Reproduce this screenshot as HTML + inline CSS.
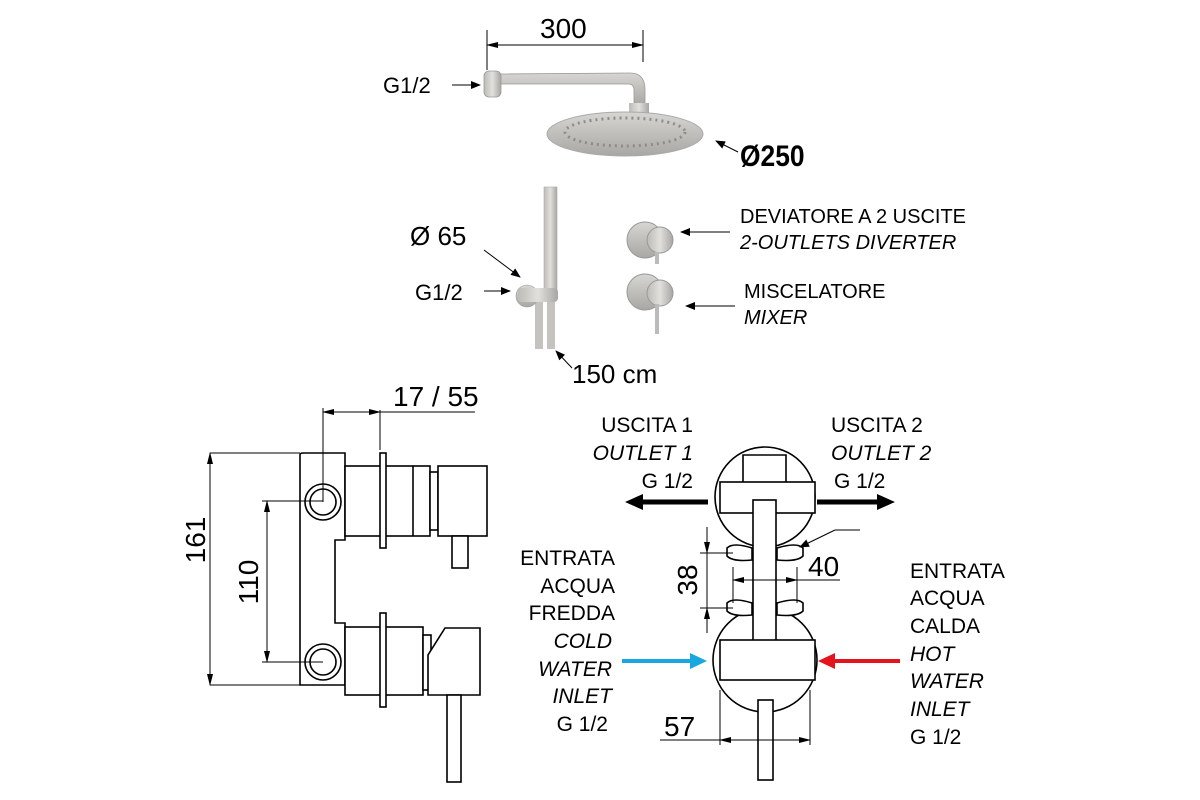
<!DOCTYPE html>
<html><head><meta charset="utf-8"><style>
html,body{margin:0;padding:0;background:#fff;width:1200px;height:800px;overflow:hidden}
text{font-family:"Liberation Sans",sans-serif;fill:#000}
.i{font-style:italic}
</style></head><body>
<svg width="1200" height="800" viewBox="0 0 1200 800" xmlns="http://www.w3.org/2000/svg">
<defs>
<marker id="a" markerWidth="10" markerHeight="8" refX="9" refY="4" orient="auto" markerUnits="userSpaceOnUse"><path d="M0,0L10,4L0,8z" fill="#000"/></marker>
<marker id="s" markerWidth="12" markerHeight="6" refX="11" refY="3" orient="auto-start-reverse" markerUnits="userSpaceOnUse"><path d="M0,0L12,3L0,6z" fill="#000"/></marker>
<linearGradient id="m" x1="0" y1="0" x2="0" y2="1"><stop offset="0" stop-color="#d8d6d2"/><stop offset="1" stop-color="#a9a7a3"/></linearGradient>
<linearGradient id="mh" x1="0" y1="0" x2="1" y2="0"><stop offset="0" stop-color="#bdbbb7"/><stop offset=".5" stop-color="#e2e0dc"/><stop offset="1" stop-color="#a8a6a2"/></linearGradient>
</defs>

<text x="540" y="38" font-size="28">300</text>
<line x1="487" y1="30" x2="487" y2="70" stroke="#000" stroke-width="1"/>
<line x1="643" y1="30" x2="643" y2="62" stroke="#000" stroke-width="1"/>
<line x1="487" y1="45" x2="643" y2="45" stroke="#000" marker-start="url(#s)" marker-end="url(#s)"/>
<text x="383" y="93" font-size="22">G1/2</text>
<line x1="452" y1="85" x2="480" y2="85" stroke="#000" marker-end="url(#a)"/>
<path d="M500,74 L630,73 Q645,73 645,90 L645,105 L634,105 L634,90 Q634,84 628,84 L500,84z" fill="url(#m)" stroke="#999" stroke-width=".8"/>
<rect x="484" y="71" width="17" height="26" rx="5" fill="url(#mh)" stroke="#999" stroke-width=".8"/>
<rect x="629" y="103" width="20" height="10" fill="url(#mh)"/>
<ellipse cx="625" cy="134" rx="78" ry="22" fill="url(#m)" stroke="#aaa"/>
<ellipse cx="625" cy="132" rx="60" ry="14" fill="none" stroke="#8f8d89" stroke-width="3" stroke-dasharray="2 4"/>
<text x="740" y="166" font-size="30" font-weight="bold" transform="translate(740,0) scale(0.88,1) translate(-740,0)">Ø250</text>
<line x1="738" y1="152" x2="716" y2="141" stroke="#000" marker-end="url(#a)"/>

<rect x="544" y="187" width="13" height="105" fill="url(#mh)" stroke="#aaa" stroke-width=".6"/>
<rect x="535" y="292" width="8" height="57" fill="#c5c3bf"/>
<rect x="547" y="292" width="8" height="57" fill="#c5c3bf"/>
<circle cx="527" cy="296" r="11" fill="url(#m)" stroke="#999" stroke-width=".6"/>
<rect x="518" y="288" width="40" height="14" rx="4" fill="url(#mh)"/>
<text x="410" y="245" font-size="26">Ø 65</text>
<line x1="484" y1="250" x2="520" y2="277" stroke="#000" marker-end="url(#a)"/>
<text x="415" y="300" font-size="22">G1/2</text>
<line x1="484" y1="291" x2="510" y2="291" stroke="#000" marker-end="url(#a)"/>
<text x="572" y="383" font-size="26">150 cm</text>
<line x1="572" y1="368" x2="556" y2="351" stroke="#000" marker-end="url(#a)"/>

<circle cx="645" cy="240" r="18" fill="url(#m)" stroke="#999"/>
<circle cx="660" cy="240" r="13" fill="url(#mh)" stroke="#999"/>
<rect x="655" y="252" width="4" height="12" fill="#bbb"/>
<circle cx="645" cy="292" r="18" fill="url(#m)" stroke="#999"/>
<circle cx="660" cy="293" r="13" fill="url(#mh)" stroke="#999"/>
<rect x="655" y="304" width="4" height="30" fill="#bbb"/>
<line x1="730" y1="232" x2="681" y2="232" stroke="#000" marker-end="url(#a)"/>
<line x1="735" y1="306" x2="686" y2="306" stroke="#000" marker-end="url(#a)"/>
<text x="740" y="223" font-size="20">DEVIATORE A 2 USCITE</text>
<text x="740" y="249" font-size="20" class="i">2-OUTLETS DIVERTER</text>
<text x="744" y="298" font-size="20">MISCELATORE</text>
<text x="744" y="324" font-size="20" class="i">MIXER</text>

<g stroke="#000" stroke-width="1.6" fill="#fff">
<path d="M300,455 Q300,453 303,453 L345,453 L345,540 L335,540 L335,623 L345,623 L345,685 L300,685z"/>
<circle cx="323" cy="502" r="18"/><circle cx="323" cy="502" r="13"/>
<circle cx="323" cy="662" r="18"/><circle cx="323" cy="662" r="13"/>
<rect x="345" y="466" width="85" height="70"/>
<line x1="413" y1="466" x2="413" y2="536"/>
<rect x="430" y="472" width="8" height="58"/>
<rect x="438" y="466" width="49" height="70"/>
<rect x="452" y="536" width="16" height="32"/>
<rect x="380" y="453" width="6" height="95"/>
<rect x="345" y="627" width="78" height="68"/>
<rect x="423" y="635" width="8" height="55"/>
<path d="M445,628 L480,628 L480,695 L428,695 L428,655z"/>
<rect x="447" y="695" width="14" height="87"/>
<rect x="380" y="613" width="6" height="94"/>
</g>
<g stroke="#000" stroke-width="1" fill="none">
<line x1="210" y1="453" x2="300" y2="453"/><line x1="210" y1="685" x2="300" y2="685"/>
<line x1="210" y1="453" x2="210" y2="685" marker-start="url(#s)" marker-end="url(#s)"/>
<line x1="262" y1="501" x2="323" y2="501"/><line x1="262" y1="662" x2="323" y2="662"/>
<line x1="267" y1="501" x2="267" y2="662" marker-start="url(#s)" marker-end="url(#s)"/>
<line x1="323" y1="408" x2="323" y2="502"/><line x1="380" y1="410" x2="380" y2="450"/>
<line x1="323" y1="412" x2="380" y2="412" marker-start="url(#s)" marker-end="url(#s)"/>
<line x1="380" y1="412" x2="475" y2="412"/>
</g>
<text x="393" y="406" font-size="28">17 / 55</text>
<text transform="translate(205,540) rotate(-90)" font-size="28" text-anchor="middle">161</text>
<text transform="translate(258,582) rotate(-90)" font-size="28" text-anchor="middle">110</text>

<g stroke="#000" stroke-width="1.6" fill="#fff">
<circle cx="765" cy="497" r="50"/>
<circle cx="765" cy="660" r="52"/>
<path d="M743,482 L743,455 L786,455 L786,482"/>
<rect x="720" y="482" width="95" height="31"/>
<rect x="753" y="500" width="23" height="145"/>
<rect x="720" y="640" width="95" height="40"/>
<rect x="758" y="700" width="15" height="80"/>
<path d="M727,548 Q733,542 752,548 L752,560 Q733,562 727,556z"/>
<path d="M803,548 Q797,542 777,548 L777,560 Q797,562 803,556z"/>
<path d="M727,603 Q733,597 752,603 L752,615 Q733,617 727,611z"/>
<path d="M803,603 Q797,597 777,603 L777,615 Q797,617 803,611z"/>
</g>
<g stroke="#000" stroke-width="1" fill="none">
<line x1="700" y1="553" x2="733" y2="553"/><line x1="700" y1="608" x2="733" y2="608"/>
<line x1="707" y1="527" x2="707" y2="633"/>
<line x1="707" y1="540" x2="707" y2="553" marker-end="url(#s)"/><line x1="707" y1="622" x2="707" y2="608" marker-end="url(#s)"/>
<line x1="733" y1="567" x2="733" y2="603"/><line x1="797" y1="567" x2="797" y2="603"/>
<line x1="733" y1="580" x2="840" y2="580"/>
<line x1="745" y1="580" x2="733" y2="580" marker-end="url(#s)"/><line x1="785" y1="580" x2="797" y2="580" marker-end="url(#s)"/>
<line x1="860" y1="530" x2="835" y2="530"/><line x1="835" y1="530" x2="800" y2="547" marker-end="url(#a)"/>
<line x1="720" y1="690" x2="720" y2="745"/><line x1="810" y1="690" x2="810" y2="745"/>
<line x1="660" y1="740" x2="810" y2="740"/>
<line x1="735" y1="740" x2="720" y2="740" marker-end="url(#s)"/><line x1="795" y1="740" x2="810" y2="740" marker-end="url(#s)"/>
</g>
<text x="808" y="576" font-size="28">40</text>
<text x="664" y="736" font-size="28">57</text>
<text transform="translate(697,580) rotate(-90)" font-size="28" text-anchor="middle">38</text>

<line x1="708" y1="502" x2="640" y2="502" stroke="#000" stroke-width="5"/>
<path d="M625,502 L643,494 L643,510z" fill="#000"/>
<line x1="817" y1="502" x2="880" y2="502" stroke="#000" stroke-width="5"/>
<path d="M895,502 L877,494 L877,510z" fill="#000"/>
<line x1="622" y1="661" x2="692" y2="661" stroke="#1aa7e0" stroke-width="4"/>
<path d="M707,661 L690,653 L690,669z" fill="#1aa7e0"/>
<line x1="900" y1="661" x2="835" y2="661" stroke="#e3141b" stroke-width="4"/>
<path d="M818,661 L835,653 L835,669z" fill="#e3141b"/>

<g font-size="21">
<text x="693" y="432" text-anchor="end">USCITA 1</text>
<text x="693" y="460" text-anchor="end" class="i">OUTLET 1</text>
<text x="693" y="488" text-anchor="end">G 1/2</text>
<text x="831" y="432">USCITA 2</text>
<text x="831" y="460" class="i">OUTLET 2</text>
<text x="834" y="488">G 1/2</text>
<text x="615" y="565" text-anchor="end">ENTRATA</text>
<text x="615" y="593" text-anchor="end">ACQUA</text>
<text x="615" y="620" text-anchor="end">FREDDA</text>
<text x="612" y="648" text-anchor="end" class="i">COLD</text>
<text x="612" y="676" text-anchor="end" class="i">WATER</text>
<text x="612" y="703" text-anchor="end" class="i">INLET</text>
<text x="608" y="731" text-anchor="end">G 1/2</text>
<text x="910" y="578">ENTRATA</text>
<text x="910" y="605">ACQUA</text>
<text x="910" y="633">CALDA</text>
<text x="910" y="661" class="i">HOT</text>
<text x="910" y="688" class="i">WATER</text>
<text x="910" y="716" class="i">INLET</text>
<text x="910" y="744">G 1/2</text>
</g>
</svg>
</body></html>
